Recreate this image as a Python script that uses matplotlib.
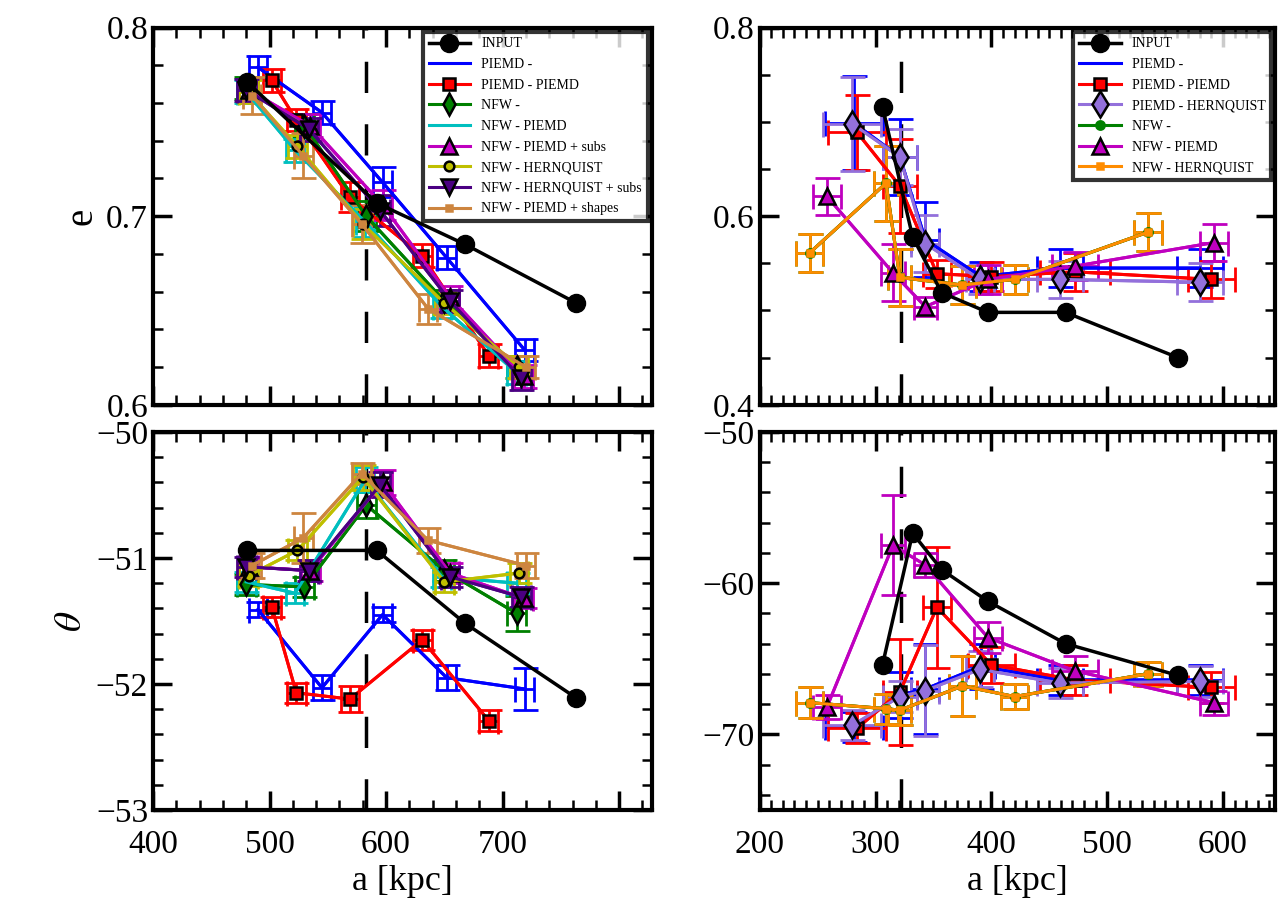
import numpy as np
import matplotlib.pyplot as plt
from matplotlib.ticker import MultipleLocator, FuncFormatter

plt.rcParams['font.family'] = ['Liberation Serif', 'DejaVu Serif']
plt.rcParams['mathtext.fontset'] = 'stix'

# ---------------- left panels (e, theta vs a) ----------------
L_names = ['INPUT', 'PIEMD -', 'PIEMD - PIEMD', 'NFW -', 'NFW - PIEMD', 'NFW - PIEMD + subs',
           'NFW - HERNQUIST', 'NFW - HERNQUIST + subs', 'NFW - PIEMD + shapes']
L_input_a = [481, 592, 668, 763]
L_input_e = [0.771, 0.707, 0.685, 0.654]
L_input_t = [-50.94, -50.94, -51.52, -52.11]

L_a = {
    'PIEMD -': [490, 545, 597, 652, 719],
    'PIEMD - PIEMD': [502, 523, 569, 631, 688],
    'NFW -': [480, 530, 583, 650, 712],
    'NFW - PIEMD': [480, 522, 582, 648, 712],
    'NFW - PIEMD + subs': [482, 535, 597, 655, 718],
    'NFW - HERNQUIST': [482, 524, 580, 650, 714],
    'NFW - HERNQUIST + subs': [480, 534, 595, 655, 716],
    'NFW - PIEMD + shapes': [485, 529, 579, 636, 720],
}
L_e = {
    'PIEMD -': [0.779, 0.755, 0.718, 0.678, 0.629],
    'PIEMD - PIEMD': [0.772, 0.751, 0.710, 0.679, 0.626],
    'NFW -': [0.768, 0.748, 0.700, 0.655, 0.620],
    'NFW - PIEMD': [0.766, 0.735, 0.697, 0.652, 0.617],
    'NFW - PIEMD + subs': [0.767, 0.748, 0.706, 0.657, 0.615],
    'NFW - HERNQUIST': [0.766, 0.737, 0.696, 0.654, 0.620],
    'NFW - HERNQUIST + subs': [0.767, 0.746, 0.703, 0.655, 0.614],
    'NFW - PIEMD + shapes': [0.764, 0.732, 0.696, 0.651, 0.620],
}
L_t = {
    'PIEMD -': [-51.41, -52.03, -51.45, -51.95, -52.04],
    'PIEMD - PIEMD': [-51.39, -52.07, -52.12, -51.65, -52.29],
    'NFW -': [-51.21, -51.23, -50.58, -51.10, -51.44],
    'NFW - PIEMD': [-51.19, -51.28, -50.38, -51.15, -51.20],
    'NFW - PIEMD + subs': [-51.07, -51.10, -50.40, -51.12, -51.32],
    'NFW - HERNQUIST': [-51.14, -50.94, -50.36, -51.19, -51.12],
    'NFW - HERNQUIST + subs': [-51.07, -51.10, -50.42, -51.15, -51.31],
    'NFW - PIEMD + shapes': [-51.06, -50.84, -50.33, -50.86, -51.06],
}
L_xerr = [8, 8, 8, 8, 8]
L_eerr = {k: [0.006, 0.006, 0.008, 0.006, 0.006] for k in L_e}
L_eerr['NFW - PIEMD + shapes'] = [0.01, 0.012, 0.01, 0.008, 0.006]
L_terr = {k: [0.08, 0.08, 0.1, 0.08, 0.08] for k in L_t}
L_terr['PIEMD -'] = [0.06, 0.1, 0.06, 0.1, 0.17]
L_terr['NFW - PIEMD + shapes'] = [0.1, 0.2, 0.08, 0.1, 0.1]
L_terr['NFW -'] = [0.08, 0.08, 0.1, 0.08, 0.14]

# ---------------- right panels ----------------
R_input_a = [306, 332, 357, 397, 464, 561]
R_input_e = [0.716, 0.578, 0.519, 0.498, 0.498, 0.450]
R_input_t = [-65.4, -56.7, -59.1, -61.2, -64.0, -66.1]

R_a = {
    'PIEMD -': [281, 321, 343, 391, 459, 580],
    'PIEMD - PIEMD': [284, 321, 353, 400, 472, 590],
    'PIEMD - HERNQUIST': [280, 321, 343, 390, 459, 580],
    'NFW -': [243, 309, 321, 375, 420, 535],
    'NFW - PIEMD': [258, 315, 343, 397, 472, 592],
    'NFW - HERNQUIST': [243, 309, 321, 375, 420, 535],
}
R_e = {
    'PIEMD -': [0.699, 0.663, 0.575, 0.536, 0.545, 0.545],
    'PIEMD - PIEMD': [0.689, 0.632, 0.539, 0.536, 0.541, 0.533],
    'PIEMD - HERNQUIST': [0.698, 0.663, 0.571, 0.533, 0.533, 0.530],
    'NFW -': [0.561, 0.635, 0.535, 0.527, 0.533, 0.583],
    'NFW - PIEMD': [0.621, 0.540, 0.504, 0.533, 0.547, 0.572],
    'NFW - HERNQUIST': [0.561, 0.635, 0.535, 0.527, 0.533, 0.583],
}
R_t = {
    'PIEMD -': [-69.5, -67.4, -67.0, -65.5, -66.4, -66.4],
    'PIEMD - PIEMD': [-69.6, -67.2, -61.6, -65.4, -66.4, -66.9],
    'PIEMD - HERNQUIST': [-69.4, -67.5, -67.1, -65.7, -66.6, -66.5],
    'NFW -': [-67.9, -68.3, -68.4, -66.8, -67.5, -66.0],
    'NFW - PIEMD': [-68.2, -57.5, -58.8, -63.6, -65.8, -67.9],
    'NFW - HERNQUIST': [-67.9, -68.3, -68.4, -66.8, -67.5, -66.0],
}
R_xerr = {
    'PIEMD -': [25, 15, 12, 12, 20, 20],
    'PIEMD - PIEMD': [25, 15, 12, 20, 30, 20],
    'PIEMD - HERNQUIST': [25, 15, 12, 12, 20, 20],
    'NFW -': [12, 10, 10, 12, 12, 12],
    'NFW - PIEMD': [12, 10, 10, 12, 20, 12],
    'NFW - HERNQUIST': [12, 10, 10, 12, 12, 12],
}
R_eerr = {
    'PIEMD -': [0.05, 0.04, 0.04, 0.015, 0.02, 0.02],
    'PIEMD - PIEMD': [0.04, 0.05, 0.015, 0.015, 0.02, 0.02],
    'PIEMD - HERNQUIST': [0.05, 0.03, 0.03, 0.015, 0.02, 0.02],
    'NFW -': [0.02, 0.04, 0.03, 0.02, 0.015, 0.02],
    'NFW - PIEMD': [0.02, 0.03, 0.01, 0.015, 0.015, 0.02],
    'NFW - HERNQUIST': [0.02, 0.04, 0.03, 0.02, 0.015, 0.02],
}
R_terr = {
    'PIEMD -': [1.0, 1.5, 3.0, 1.5, 1.0, 1.0],
    'PIEMD - PIEMD': [1.0, 3.5, 4.0, 1.2, 1.0, 1.0],
    'PIEMD - HERNQUIST': [1.0, 1.0, 3.0, 1.2, 1.0, 1.0],
    'NFW -': [1.0, 1.0, 1.0, 2.0, 0.8, 0.8],
    'NFW - PIEMD': [0.8, 3.3, 0.8, 1.0, 1.0, 0.8],
    'NFW - HERNQUIST': [1.0, 1.0, 1.0, 2.0, 0.8, 0.8],
}

styles = {
    'PIEMD -': dict(color='blue', marker='None', ms=0),
    'PIEMD - PIEMD': dict(color='red', marker='s', ms=9),
    'PIEMD - HERNQUIST': dict(color='mediumpurple', marker='d', ms=13),
    'NFW -': dict(color='green', marker='d', ms=11),
    'NFW - PIEMD': dict(color='c', marker='None', ms=0),
    'NFW - PIEMD + subs': dict(color='m', marker='^', ms=12),
    'NFW - HERNQUIST': dict(color='y', marker='o', ms=7),
    'NFW - HERNQUIST + subs': dict(color='indigo', marker='v', ms=12),
    'NFW - PIEMD + shapes': dict(color='peru', marker='s', ms=4),
}
R_styles = dict(styles)
R_styles['NFW -'] = dict(color='green', marker='o', ms=6)
R_styles['NFW - PIEMD'] = dict(color='m', marker='^', ms=12)
R_styles['NFW - HERNQUIST'] = dict(color='darkorange', marker='s', ms=4)


def draw(ax, a, v, xe, ve, st, label):
    ax.errorbar(a, v, xerr=xe, yerr=ve, color=st['color'], lw=2.2, elinewidth=2,
                capsize=9, capthick=2, zorder=2)
    mec = 'k' if st['ms'] > 6 else st['color']
    ax.plot(a, v, color=st['color'], lw=2.2, marker=st['marker'], ms=st['ms'],
            mfc=st['color'], mec=mec, mew=1.8, label=label, zorder=3)


def input_line(ax, a, v):
    ax.plot(a, v, 'k-o', lw=2.5, ms=13, label='INPUT', zorder=4)


def style_ax(ax, xmaj, xmin, ymaj, ymin):
    for s in ax.spines.values():
        s.set_linewidth(3)
    ax.xaxis.set_major_locator(MultipleLocator(xmaj))
    ax.xaxis.set_minor_locator(MultipleLocator(xmin))
    ax.yaxis.set_major_locator(MultipleLocator(ymaj))
    ax.yaxis.set_minor_locator(MultipleLocator(ymin))
    ax.tick_params(which='both', direction='in', top=True, right=True, labelsize=24)
    ax.tick_params(which='major', length=14, width=2.5)
    ax.tick_params(which='minor', length=7, width=1.8)
    ax.tick_params(axis='x', pad=14)


fig = plt.figure(figsize=(12.79, 9.22), dpi=100)
ax1 = fig.add_axes([0.1196, 0.561, 0.390, 0.409])
ax2 = fig.add_axes([0.594, 0.561, 0.403, 0.409])
ax3 = fig.add_axes([0.1196, 0.1215, 0.390, 0.410])
ax4 = fig.add_axes([0.594, 0.1215, 0.403, 0.410])

for ax in (ax1, ax3):
    input_line(ax, L_input_a, L_input_e if ax is ax1 else L_input_t)
    data = L_e if ax is ax1 else L_t
    err = L_eerr if ax is ax1 else L_terr
    for n in L_names[1:]:
        draw(ax, L_a[n], data[n], L_xerr, err[n], styles[n], n)
    ax.axvline(583, color='k', lw=2.5, dashes=(9, 9), zorder=1)
    ax.set_xlim(400, 828)

R_names = ['PIEMD -', 'PIEMD - PIEMD', 'PIEMD - HERNQUIST', 'NFW -', 'NFW - PIEMD', 'NFW - HERNQUIST']
for ax in (ax2, ax4):
    input_line(ax, R_input_a, R_input_e if ax is ax2 else R_input_t)
    data = R_e if ax is ax2 else R_t
    err = R_eerr if ax is ax2 else R_terr
    for n in R_names:
        draw(ax, R_a[n], data[n], R_xerr[n], err[n], R_styles[n], n)
    ax.axvline(322, color='k', lw=2.5, dashes=(9, 9), zorder=1)
    ax.set_xlim(200, 645)

ax1.set_ylim(0.6, 0.8)
ax2.set_ylim(0.4, 0.8)
ax3.set_ylim(-53, -50)
ax4.set_ylim(-75, -50)
style_ax(ax1, 100, 20, 0.1, 0.02)
style_ax(ax2, 100, 10, 0.2, 0.05)
style_ax(ax3, 100, 20, 1, 0.2)
style_ax(ax4, 100, 10, 10, 2)
ax1.tick_params(labelbottom=False)
ax2.tick_params(labelbottom=False)
ax3.xaxis.set_major_formatter(FuncFormatter(lambda v, p: '' if v >= 800 else '%d' % v))
ax4.yaxis.set_major_formatter(FuncFormatter(lambda v, p: '' if v <= -75 else ('\u2212%d' % -v)))

ax1.set_ylabel('e', fontsize=28)
ax3.set_ylabel(r'$\theta$', fontsize=28)
ax3.set_xlabel('a [kpc]', fontsize=26)
ax4.set_xlabel('a [kpc]', fontsize=26)

for ax in (ax1, ax2):
    leg = ax.legend(loc='upper right', fontsize=10, frameon=True, fancybox=False,
                    handlelength=3, borderaxespad=0.3, labelspacing=0.55)
    leg.get_frame().set_edgecolor('k')
    leg.get_frame().set_linewidth(3)

fig.savefig('out.png', dpi=100)
